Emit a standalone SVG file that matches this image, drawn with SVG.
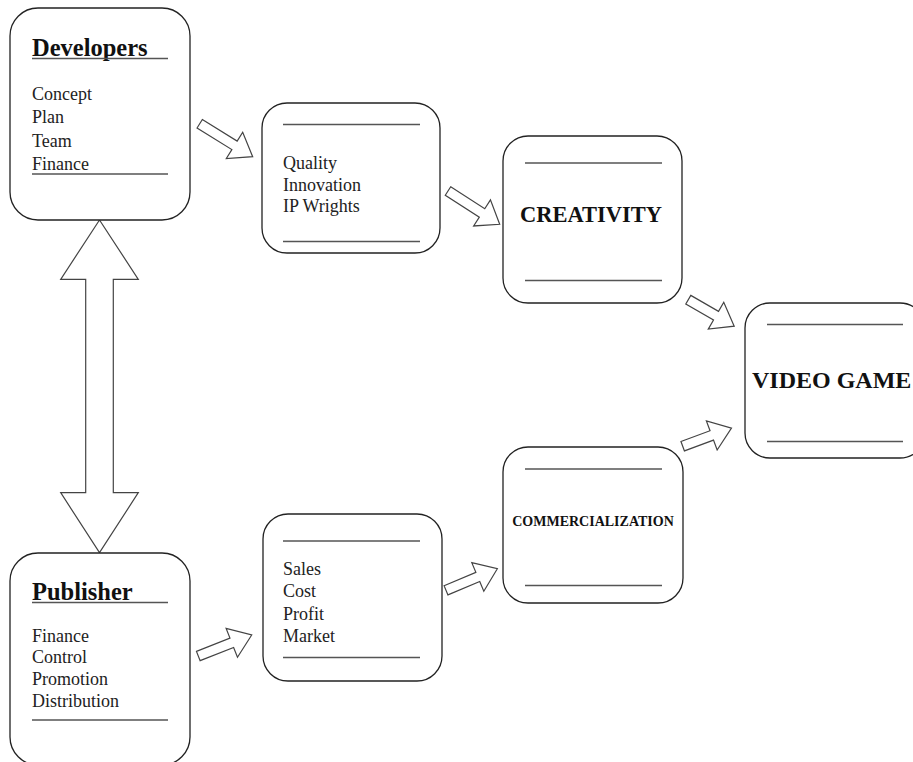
<svg xmlns="http://www.w3.org/2000/svg" width="913" height="762" viewBox="0 0 913 762">
<style>
.box{fill:#fff;stroke:#222;stroke-width:1.3}
.rule{stroke:#555;stroke-width:1.5}
.arr{fill:#fff;stroke:#444;stroke-width:1.2;stroke-linejoin:miter}
.title{font-family:"Liberation Serif","Times New Roman",serif;font-weight:bold;fill:#111}
.item{font-family:"Liberation Serif","Times New Roman",serif;font-size:18px;fill:#222}
</style>
<rect width="913" height="762" fill="#fff"/>
<g id="connectors">
<path class="arr" d="M99.5,220 L138.3,279.3 L113.3,279.3 L113.3,492.7 L138.3,492.7 L99.5,552.7 L60.7,492.7 L85.7,492.7 L85.7,279.3 L60.7,279.3 Z"/>
<path class="arr" transform="translate(199.7,123.7) rotate(31.9)" d="M0,-5 L41,-5 L41,-15.5 L62.4,0 L41,15.5 L41,5 L0,5 Z"/>
<path class="arr" transform="translate(448,191) rotate(32.8)" d="M0,-5 L40.5,-5 L40.5,-15.5 L61.5,0 L40.5,15.5 L40.5,5 L0,5 Z"/>
<path class="arr" transform="translate(688.3,299.7) rotate(30)" d="M0,-5 L32,-5 L32,-15.5 L53,0 L32,15.5 L32,5 L0,5 Z"/>
<path class="arr" transform="translate(682.7,446.2) rotate(-20.3)" d="M0,-5 L31,-5 L31,-15.5 L52,0 L31,15.5 L31,5 L0,5 Z"/>
<path class="arr" transform="translate(446,590.3) rotate(-22.8)" d="M0,-5 L34.5,-5 L34.5,-15.5 L55.7,0 L34.5,15.5 L34.5,5 L0,5 Z"/>
<path class="arr" transform="translate(198.3,656) rotate(-21.5)" d="M0,-5 L36,-5 L36,-15.5 L57.4,0 L36,15.5 L36,5 L0,5 Z"/>
</g>
<g id="developers">
<rect class="box" x="10" y="8" width="180" height="212" rx="28"/>
<text class="title" x="32" y="56" font-size="24.5">Developers</text>
<line class="rule" x1="32" y1="58.5" x2="168" y2="58.5"/>
<text class="item" x="32" y="99.5">Concept</text>
<text class="item" x="32" y="123">Plan</text>
<text class="item" x="32" y="146.5">Team</text>
<text class="item" x="32" y="170">Finance</text>
<line class="rule" x1="32" y1="174" x2="168" y2="174"/>
</g>
<g id="quality">
<rect class="box" x="262" y="103" width="178" height="150" rx="25"/>
<line class="rule" x1="283" y1="124.5" x2="420" y2="124.5"/>
<text class="item" x="283" y="169" font-size="16">Quality</text>
<text class="item" x="283" y="190.5" font-size="16">Innovation</text>
<text class="item" x="283" y="212" font-size="16">IP Wrights</text>
<line class="rule" x1="283" y1="241.5" x2="420" y2="241.5"/>
</g>
<g id="creativity">
<rect class="box" x="503" y="136" width="179" height="167" rx="25"/>
<line class="rule" x1="525" y1="163" x2="662" y2="163"/>
<text class="title" x="591" y="221.5" font-size="22.5" text-anchor="middle">CREATIVITY</text>
<line class="rule" x1="525" y1="280.5" x2="662" y2="280.5"/>
</g>
<g id="video-game">
<rect class="box" x="745" y="303" width="180" height="155" rx="25"/>
<line class="rule" x1="767" y1="324.5" x2="903" y2="324.5"/>
<text class="title" x="752" y="388" font-size="24">VIDEO GAME</text>
<line class="rule" x1="767" y1="441.5" x2="903" y2="441.5"/>
</g>
<g id="commercialization">
<rect class="box" x="503" y="447" width="180" height="156" rx="25"/>
<line class="rule" x1="525" y1="469" x2="662" y2="469"/>
<text class="title" x="593" y="526" font-size="14" text-anchor="middle">COMMERCIALIZATION</text>
<line class="rule" x1="525" y1="585.5" x2="662" y2="585.5"/>
</g>
<g id="sales">
<rect class="box" x="263" y="514" width="179" height="167" rx="25"/>
<line class="rule" x1="283" y1="541" x2="420" y2="541"/>
<text class="item" x="283" y="575" font-size="17.5">Sales</text>
<text class="item" x="283" y="597" font-size="17.5">Cost</text>
<text class="item" x="283" y="619.5" font-size="17.5">Profit</text>
<text class="item" x="283" y="641.5" font-size="17.5">Market</text>
<line class="rule" x1="283" y1="657.5" x2="420" y2="657.5"/>
</g>
<g id="publisher">
<rect class="box" x="10" y="553" width="180" height="212" rx="28"/>
<text class="title" x="32" y="600" font-size="24.5">Publisher</text>
<line class="rule" x1="32" y1="602.5" x2="168" y2="602.5"/>
<text class="item" x="32" y="641.5">Finance</text>
<text class="item" x="32" y="663">Control</text>
<text class="item" x="32" y="685">Promotion</text>
<text class="item" x="32" y="706.5">Distribution</text>
<line class="rule" x1="32" y1="720" x2="168" y2="720"/>
</g>
</svg>
